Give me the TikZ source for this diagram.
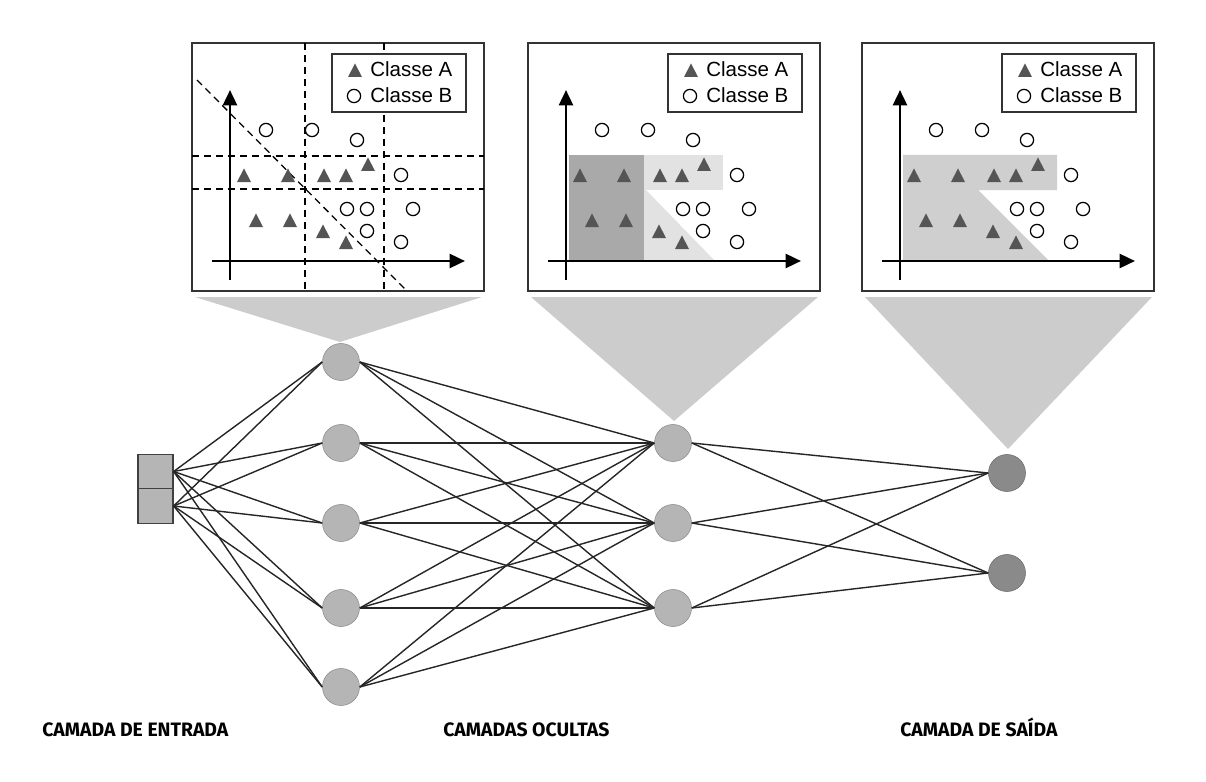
\documentclass[tikz,border=0pt]{standalone}
\usepackage{fontspec}
\setmainfont{Liberation Sans}
\newfontfamily\layerfont{Fira Sans}
\usetikzlibrary{arrows.meta}

\definecolor{neurongray}{HTML}{B5B5B5}
\definecolor{neuronborder}{HTML}{8E8E8E}
\definecolor{outgray}{HTML}{8A8A8A}
\definecolor{outborder}{HTML}{6E6E6E}
\definecolor{funnelgray}{HTML}{CCCCCC}
\definecolor{regiondark}{HTML}{A9A9A9}
\definecolor{regionlight}{HTML}{E2E2E2}
\definecolor{regionmid}{HTML}{CFCFCF}
\definecolor{markgray}{HTML}{555555}

\begin{document}
\begin{tikzpicture}[x=0.025cm, y=-0.025cm]
    % Define styles
    \tikzset{
        neuron/.style={circle, draw=neuronborder, fill=neurongray, minimum size=0.925cm, inner sep=0pt},
        outneuron/.style={circle, draw=outborder, fill=outgray, minimum size=0.925cm, inner sep=0pt},
        inbox/.style={draw=black!75, line width=0.9pt, fill=neurongray, minimum width=0.875cm, minimum height=0.86cm, inner sep=0pt},
        link/.style={black!85, line width=1pt},
        funnel/.style={fill=funnelgray},
        plotbox/.style={draw=black!80, line width=0.9pt, fill=white},
        legendbox/.style={draw=black!80, line width=0.8pt, fill=white},
        axis/.style={-{Triangle[length=11pt, width=10pt]}, line width=1.9pt},
        split/.style={dash pattern=on 5pt off 3.5pt, line width=0.9pt},
        classB/.style={draw=black, line width=0.9pt, fill=white},
        classA/.style={fill=markgray},
        triA/.pic={\fill[classA] (-7,6) -- (7,6) -- (0,-7.5) -- cycle;},
        legendtext/.style={anchor=base west, inner sep=0pt, font=\fontsize{14.6}{17}\selectfont},
        layerlabel/.style={anchor=base west, inner sep=0pt, font=\layerfont\bfseries\fontsize{13.8}{15}\selectfont}
    }
    \useasboundingbox (0,0) rectangle (1206,782);

    % Zoom funnels below the plots
    \fill[funnel] (195,297) -- (482,297) -- (340,342) -- cycle;
    \fill[funnel] (531,297) -- (818,297) -- (674,421) -- cycle;
    \fill[funnel] (865,297) -- (1152,297) -- (1008,449) -- cycle;

    % Plot frames
    \foreach \dx in {0,336,670}
        \draw[plotbox] (192+\dx,43) rectangle (484+\dx,291);

    % Regions of the middle plot
    \begin{scope}[shift={(336,0)}]
        \fill[regiondark] (233,155) rectangle (308,260);
        \fill[regionlight] (308,155) rectangle (387,190);
        \fill[regionlight] (308,190) -- (310,190) -- (378,260) -- (308,260) -- cycle;
    \end{scope}

    % Region of the right plot
    \begin{scope}[shift={(670,0)}]
        \fill[regionmid] (233,155) -- (387,155) -- (387,190) -- (308,190) -- (378,260) -- (233,260) -- cycle;
    \end{scope}

    % Decision lines of the left plot
    \draw[split] (305,43) -- (305,291);
    \draw[split] (384,43) -- (384,291);
    \draw[split] (192,156) -- (484,156);
    \draw[split] (192,189) -- (484,189);
    \draw[split] (197,80) -- (405,289);

    % Axes, samples and legend of each plot
    \foreach \dx in {0,336,670} {
        \begin{scope}[shift={(\dx,0)}]
            \draw[axis] (230,280) -- (230,90);
            \draw[axis] (212,261) -- (465,261);
            \foreach \px/\py in {266/130, 312/130, 357/140, 401/175, 347/209, 367/209, 413/209, 367/231, 401/242}
                \draw[classB] (\px,\py) circle[radius=4.7pt];
            \foreach \px/\py in {244/176, 288/176, 324/176, 346/176, 368/165, 256/221, 290/221, 323/232, 346/243}
                \pic at (\px,\py) {triA};
            \draw[legendbox] (332,54) rectangle (466,112);
            \pic at (355,71) {triA};
            \draw[classB] (354,96) circle[radius=4.7pt];
            \node[legendtext] (legA\dx) at (370,77) {Classe A};
            \node[legendtext] (legB\dx) at (370,103) {Classe B};
        \end{scope}
    }

    % Input layer
    \node[inbox] (in1) at (155.5,471.5) {};
    \node[inbox] (in2) at (155.5,506) {};

    % First hidden layer
    \node[neuron] (h11) at (341,362) {};
    \node[neuron] (h12) at (341,443) {};
    \node[neuron] (h13) at (341,523) {};
    \node[neuron] (h14) at (341,608) {};
    \node[neuron] (h15) at (341,687) {};

    % Second hidden layer
    \node[neuron] (h21) at (673,443) {};
    \node[neuron] (h22) at (673,523) {};
    \node[neuron] (h23) at (673,608) {};

    % Output layer
    \node[outneuron] (o1) at (1007,473) {};
    \node[outneuron] (o2) at (1007,573) {};

    % Connections
    \foreach \i in {1,2}
        \foreach \j in {1,...,5}
            \draw[link] (in\i.east) -- (h1\j.west);
    \foreach \i in {1,...,5}
        \foreach \j in {1,2,3}
            \draw[link] (h1\i.east) -- (h2\j.west);
    \foreach \i in {1,2,3}
        \foreach \j in {1,2}
            \draw[link] (h2\i.east) -- (o\j.west);

    % Layer labels
    \node[layerlabel] (lblin) at (42,736) {CAMADA DE ENTRADA};
    \node[layerlabel] (lblhid) at (443,736) {CAMADAS OCULTAS};
    \node[layerlabel] (lblout) at (900,736) {CAMADA DE SAÍDA};

\end{tikzpicture}
\end{document}
